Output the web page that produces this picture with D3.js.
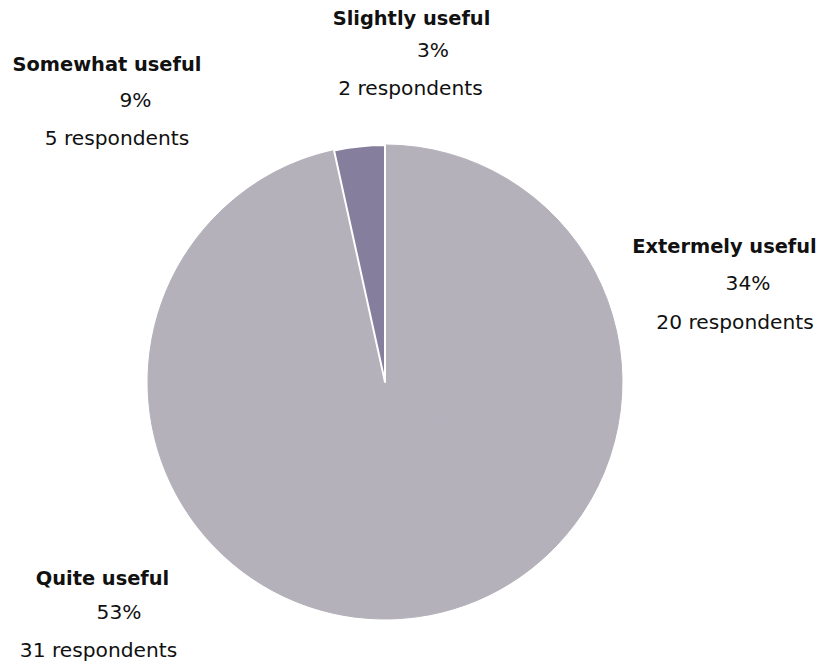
<!DOCTYPE html>
<html>
<head>
<meta charset="utf-8">
<script src="https://cdn.jsdelivr.net/npm/d3@7"></script>
<style>
  html, body { margin: 0; padding: 0; background: #fff; }
  svg { display: block; }
  text { font-family: "DejaVu Sans", Verdana, sans-serif; fill: #111; }
  text.title { font-weight: bold; }
</style>
</head>
<body>
<svg id="chart" width="819" height="665"></svg>
<script>
// Survey answers, in drawing order (clockwise from 12 o'clock)
const categories = ["Extermely useful", "Quite useful", "Somewhat useful", "Slightly useful"];
const respondents = [20, 31, 5, 2];
const highlighted = "Slightly useful";

// Label block placement: centre x and baseline y of title, percentage and count lines
const labelLayout = {
  "Extermely useful": { tx: 724.5, ty: 253, px: 748,   py: 289.5, cx: 735,   cy: 329 },
  "Quite useful":     { tx: 102.5, ty: 585, px: 119,   py: 618.5, cx: 98.5,  cy: 657 },
  "Somewhat useful":  { tx: 107,   ty: 71,  px: 135.5, py: 107,   cx: 117,   cy: 144.5 },
  "Slightly useful":  { tx: 411.5, ty: 25,  px: 433,   py: 57,    cx: 410.5, cy: 94.5 }
};

const svg = d3.select("#chart");
const cx = 385, cy = 382, radius = 237;
const total = d3.sum(respondents);
const data = categories.map((c, i) => ({ category: c, value: respondents[i] }));

const pie = d3.pie().sort(null).value(d => d.value);
const arc = d3.arc().innerRadius(0).outerRadius(radius);
const color = d3.scaleOrdinal()
  .domain([false, true])
  .range(["#b4b1bb", "#857e9c"]);

const g = svg.append("g").attr("transform", `translate(${cx},${cy})`);
const arcs = pie(data);

// base slices; same-coloured neighbours are stroked in their own fill so no seam shows
g.selectAll("path.slice")
  .data(arcs.filter(d => d.data.category !== highlighted))
  .join("path")
  .attr("class", "slice")
  .attr("d", arc)
  .attr("fill", color(false))
  .attr("stroke", color(false))
  .attr("stroke-width", 1);

// the highlighted slice is outlined in white
g.selectAll("path.hl")
  .data(arcs.filter(d => d.data.category === highlighted))
  .join("path")
  .attr("class", "hl")
  .attr("d", arc)
  .attr("fill", color(true))
  .attr("stroke", "#fff")
  .attr("stroke-width", 2)
  .attr("stroke-linejoin", "round");

// labels
const labels = svg.selectAll("g.label")
  .data(data)
  .join("g")
  .attr("class", "label");

labels.append("text")
  .attr("class", "title")
  .attr("x", d => labelLayout[d.category].tx)
  .attr("y", d => labelLayout[d.category].ty)
  .attr("text-anchor", "middle")
  .attr("font-size", 19.4)
  .text(d => d.category);

labels.append("text")
  .attr("x", d => labelLayout[d.category].px)
  .attr("y", d => labelLayout[d.category].py)
  .attr("text-anchor", "middle")
  .attr("font-size", 20.2)
  .text(d => Math.round(d.value / total * 100) + "%");

labels.append("text")
  .attr("x", d => labelLayout[d.category].cx)
  .attr("y", d => labelLayout[d.category].cy)
  .attr("text-anchor", "middle")
  .attr("font-size", 20.2)
  .text(d => d.value + " respondents");
</script>
</body>
</html>
